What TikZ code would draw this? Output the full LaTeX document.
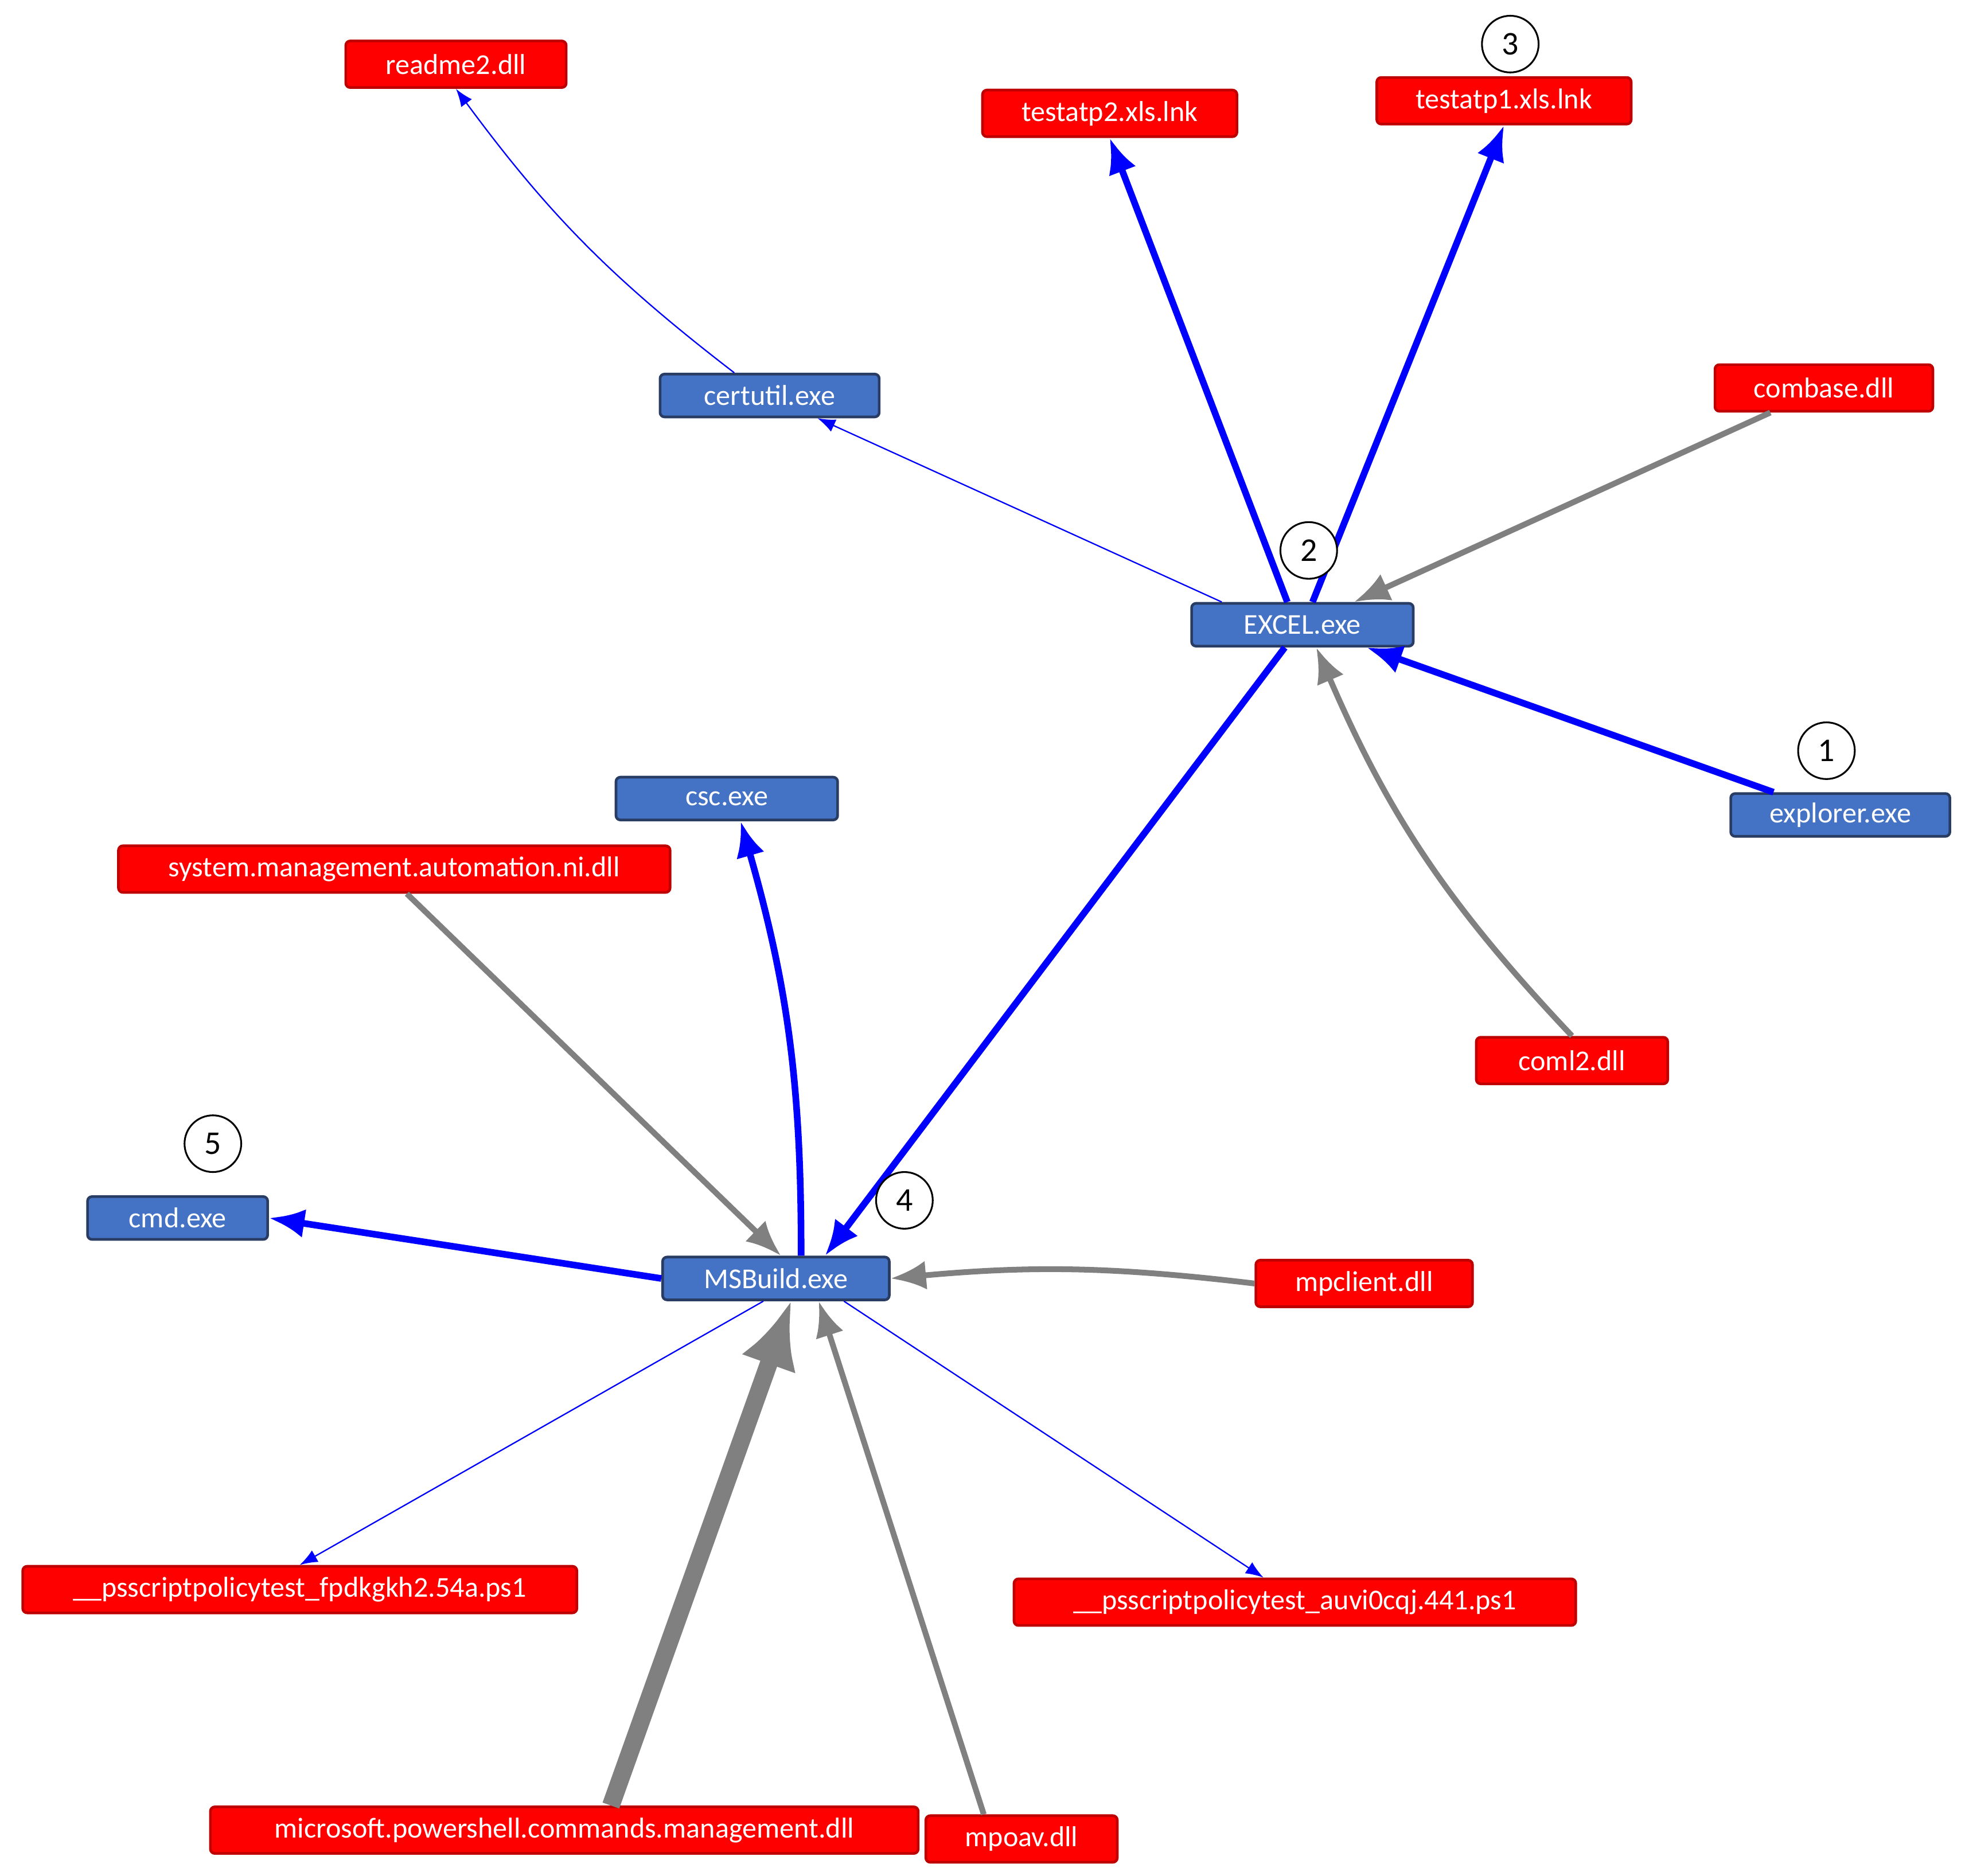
\documentclass[tikz,border=0pt]{standalone}
\usepackage{fontspec}
\setmainfont{Carlito}
\usetikzlibrary{arrows.meta}
\begin{document}
\begin{tikzpicture}[x=0.02cm,y=-0.02cm,
 box/.style={rounded corners=2pt,minimum height=0.74cm,inner sep=2pt,text=white,font=\fontsize{13}{15}\selectfont,line width=1.2pt},
 rbox/.style={box,fill=red,draw=red!75!black},
 bbox/.style={box,fill={rgb,255:red,68;green,114;blue,196},draw={rgb,255:red,40;green,60;blue,100}},
 num/.style={circle,draw,fill=white,line width=0.8pt,minimum size=0.9cm,inner sep=0pt,font=\fontsize{15}{17}\selectfont},
 thinb/.style={draw=blue,line width=0.6pt,-{Latex[length=8pt,width=6pt]}},
 thickb/.style={draw=blue,line width=3pt,-{Latex[length=16pt,width=13pt]}},
 grayt/.style={draw=gray,line width=2.6pt,-{Latex[length=16pt,width=13pt]}}]
\useasboundingbox (0,0) rectangle (1560,1489);
\node[rbox,minimum width=3.5cm] (readme) at (362,51) {readme2.dll};
\node[rbox,minimum width=4.04cm] (t2) at (881,90) {testatp2.xls.lnk};
\node[rbox,minimum width=4.04cm] (t1) at (1194,80) {testatp1.xls.lnk};
\node[rbox,minimum width=3.46cm] (combase) at (1448,308) {combase.dll};
\node[bbox,minimum width=3.48cm,minimum height=0.68cm] (cert) at (611,314) {certutil.exe};
\node[bbox,minimum width=3.52cm,minimum height=0.68cm] (excel) at (1034,496) {EXCEL.exe};
\node[bbox,minimum width=3.48cm,minimum height=0.68cm] (explorer) at (1461,647) {explorer.exe};
\node[bbox,minimum width=3.52cm,minimum height=0.68cm] (csc) at (577,634) {csc.exe};
\node[rbox,minimum width=8.76cm] (sma) at (313,690) {system.management.automation.ni.dll};
\node[rbox,minimum width=3.04cm] (coml) at (1248,842) {coml2.dll};
\node[bbox,minimum width=2.86cm,minimum height=0.68cm] (cmd) at (141,967) {cmd.exe};
\node[bbox,minimum width=3.6cm,minimum height=0.68cm] (msb) at (616,1015) {MSBuild.exe};
\node[rbox,minimum width=3.44cm] (mpc) at (1083,1019) {mpclient.dll};
\node[rbox,minimum width=8.8cm] (ps1) at (238,1262) {\_\_psscriptpolicytest\_fpdkgkh2.54a.ps1};
\node[rbox,minimum width=8.92cm] (ps2) at (1028,1272) {\_\_psscriptpolicytest\_auvi0cqj.441.ps1};
\node[rbox,minimum width=11.24cm] (mpsh) at (448,1453) {microsoft.powershell.commands.management.dll};
\node[rbox,minimum width=3.04cm] (mpoav) at (811,1460) {mpoav.dll};

\draw[thinb] ([xshift=1.2cm]cert.north west) to[bend left=8] (readme.south);
\draw[thinb] ([xshift=0.5cm]excel.north west) -- ([xshift=-1cm]cert.south east);
\draw[thickb] ([xshift=-0.24cm]excel.north) -- (t2.south);
\draw[thickb] ([xshift=0.16cm]excel.north) -- (t1.south);
\draw[grayt] ([xshift=0.9cm]combase.south west) -- ([xshift=0.82cm]excel.north);
\draw[thickb] ([xshift=0.7cm]explorer.north west) -- ([xshift=1.02cm]excel.south);
\draw[grayt] (coml.north) to[bend left=10] ([xshift=0.22cm]excel.south);
\draw[thickb] ([xshift=-0.28cm]excel.south) -- ([xshift=0.78cm]msb.north);
\draw[thickb] ([xshift=0.4cm]msb.north) to[bend right=8] ([xshift=0.22cm]csc.south);
\draw[grayt] ([xshift=0.2cm]sma.south) -- ([xshift=0.08cm]msb.north);
\draw[thickb] (msb.west) -- (cmd.east);
\draw[grayt] (mpc.west) to[bend right=6] (msb.east);
\draw[thinb] ([xshift=-0.2cm]msb.south) -- (ps1.north);
\draw[thinb] ([xshift=1.08cm]msb.south) -- ([xshift=-0.5cm]ps2.north);
\draw[draw=gray,line width=8pt,-{Latex[length=30pt,width=26pt]}] ([xshift=0.74cm]mpsh.north) -- ([xshift=0.24cm]msb.south);
\draw[grayt] ([xshift=-0.6cm]mpoav.north) -- ([xshift=0.68cm]msb.south);

\node[num] (n3) at (1199,35) {3};
\node[num] (n2) at (1039,437) {2};
\node[num] (n1) at (1450,596) {1};
\node[num] (n5) at (169,908) {5};
\node[num] (n4) at (718,953) {4};
\end{tikzpicture}
\end{document}
